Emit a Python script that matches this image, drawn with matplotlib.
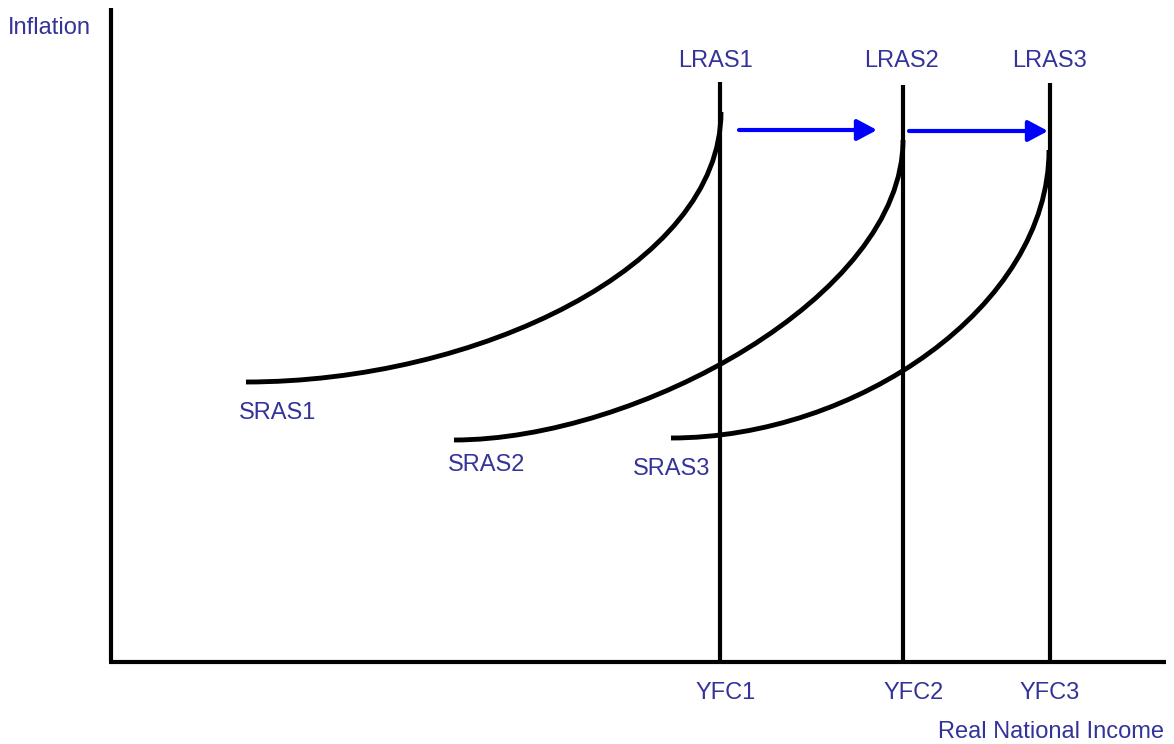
import matplotlib.pyplot as plt
from matplotlib.path import Path
from matplotlib.patches import PathPatch

plt.rcParams['font.family'] = ['Liberation Sans', 'DejaVu Sans']

# Unidades del diagrama: renta real en horizontal, inflacion en vertical
eje_x_fin = 1055
eje_y_fin = 654

# LRAS (pleno empleo)
lras_nombres = ['LRAS1', 'LRAS2', 'LRAS3']
yfc_nombres = ['YFC1', 'YFC2', 'YFC3']
lras_x = [609, 792, 939]
lras_tope = [580, 577, 579]

# SRAS: inicio, puntos de control y final de cada curva
sras_nombres = ['SRAS1', 'SRAS2', 'SRAS3']
sras_inicio = [(135, 280), (343, 222), (560, 224)]
sras_control1 = [(365, 280), (525, 222), (745, 224)]
sras_control2 = [(610, 395), (792, 365), (938, 355)]
sras_fin = [(610, 550), (792, 522), (938, 512)]

# Flechas de desplazamiento
flechas_inicio = [(628, 532), (798, 531)]
flechas_fin = [(766, 532), (937, 531)]

color_texto = '#333399'
tam = 17

fig = plt.figure(figsize=(11.74, 7.44), dpi=100)
ax = fig.add_axes([0, 0, 1, 1])
ax.set_xlim(-111, 1063)
ax.set_ylim(-82, 662)
ax.axis('off')

# Ejes
ax.plot([0, 0], [0, eje_y_fin], color='black', lw=3, solid_capstyle='butt')
ax.plot([-2, eje_x_fin], [0, 0], color='black', lw=3, solid_capstyle='butt')

# Curvas LRAS
for x, tope in zip(lras_x, lras_tope):
    ax.plot([x, x], [0, tope], color='black', lw=3, solid_capstyle='butt')

# Curvas SRAS
for p0, p1, p2, p3 in zip(sras_inicio, sras_control1, sras_control2, sras_fin):
    camino = Path([p0, p1, p2, p3], [Path.MOVETO, Path.CURVE4, Path.CURVE4, Path.CURVE4])
    ax.add_patch(PathPatch(camino, facecolor='none', edgecolor='black', lw=3.5, capstyle='butt'))

# Flechas azules
for ini, fin in zip(flechas_inicio, flechas_fin):
    ax.annotate('', xy=fin, xytext=ini,
                arrowprops=dict(arrowstyle='-|>,head_length=0.6,head_width=0.32',
                                mutation_scale=20, color='#0000ff', lw=3,
                                shrinkA=0, shrinkB=0))

# Textos
ax.text(-103, 628, 'Inflation', color=color_texto, fontsize=tam, ha='left', va='baseline')
for nombre, x in zip(lras_nombres, [605, 790, 938]):
    ax.text(x, 595, nombre, color=color_texto, fontsize=tam, ha='center', va='baseline')
for nombre, x in zip(yfc_nombres, [615, 803, 939]):
    ax.text(x, -37, nombre, color=color_texto, fontsize=tam, ha='center', va='baseline')
for nombre, x, y in zip(sras_nombres, [167, 376, 561], [243, 191, 187]):
    ax.text(x, y, nombre, color=color_texto, fontsize=tam, ha='center', va='baseline')
ax.text(1053, -76, 'Real National Income', color=color_texto, fontsize=tam, ha='right', va='baseline')

fig.savefig('out.png', dpi=100)
